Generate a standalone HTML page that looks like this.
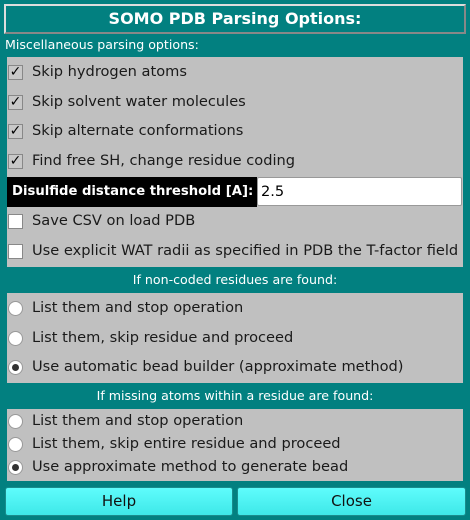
<!DOCTYPE html>
<html><head><style>
*{margin:0;padding:0;box-sizing:border-box}
body{width:470px;height:520px;background:#028080;font-family:"DejaVu Sans","Liberation Sans",sans-serif;position:relative;overflow:hidden}
.a{position:absolute}
.t{font-size:14.6px;color:#1a1a1a;white-space:nowrap}
.w{color:#fff;font-size:12.6px;white-space:nowrap}
.panel{background:#c0c0c0}
.cb{width:15px;height:15px;background:#fff;border:1px solid #888}
.cb.c{background:#c8c8c8;font-size:14px;line-height:13px;text-align:center;font-weight:bold;color:#000}
.rb{width:15px;height:15px;border-radius:50%;background:#fff;border:1px solid #999}
.rb.s::after{content:"";position:absolute;left:3px;top:3px;width:7px;height:7px;border-radius:50%;background:#333}
.btn{background:linear-gradient(#5ffcfc,#3ee8e8);border:1px solid #1a8c8c;border-radius:3px;font-size:15px;text-align:center;line-height:27px;color:#111}
</style></head><body>
<div class="a" style="left:4px;top:4px;width:462px;height:30px;border:2px solid #ddd;border-right-color:#888;border-bottom-color:#888;color:#fff;font-weight:bold;font-size:16px;text-align:center;line-height:26px">SOMO PDB Parsing Options:</div>
<div class="a w" style="left:5px;top:37px">Miscellaneous parsing options:</div>
<div class="a panel" style="left:7px;top:57px;width:456px;height:210px"></div>
<div class="a cb c" style="left:8px;top:65px">✓</div><div class="a t" style="left:32px;top:63px">Skip hydrogen atoms</div>
<div class="a cb c" style="left:8px;top:95px">✓</div><div class="a t" style="left:32px;top:93px">Skip solvent water molecules</div>
<div class="a cb c" style="left:8px;top:124px">✓</div><div class="a t" style="left:32px;top:122px">Skip alternate conformations</div>
<div class="a cb c" style="left:8px;top:154px">✓</div><div class="a t" style="left:32px;top:152px">Find free SH, change residue coding</div>
<div class="a" style="left:7px;top:177px;width:250px;height:30px;background:#000;color:#fff;font-weight:bold;font-size:13.2px;line-height:30px;padding-left:5px;white-space:nowrap;overflow:hidden">Disulfide distance threshold [A]:</div>
<div class="a" style="left:257px;top:177px;width:205px;height:29px;background:#fff;border:1px solid #999;border-radius:2px;font-size:14.6px;line-height:27px;padding-left:3px">2.5</div>
<div class="a cb" style="left:8px;top:214px"></div><div class="a t" style="left:32px;top:212px">Save CSV on load PDB</div>
<div class="a cb" style="left:8px;top:244px"></div><div class="a t" style="left:32px;top:242px">Use explicit WAT radii as specified in PDB the T-factor field</div>
<div class="a w" style="left:0;width:470px;text-align:center;top:272px">If non-coded residues are found:</div>
<div class="a panel" style="left:7px;top:293px;width:456px;height:90px"></div>
<div class="a rb" style="left:8px;top:301px"></div><div class="a t" style="left:32px;top:299px">List them and stop operation</div>
<div class="a rb" style="left:8px;top:331px"></div><div class="a t" style="left:32px;top:329px">List them, skip residue and proceed</div>
<div class="a rb s" style="left:8px;top:360px"></div><div class="a t" style="left:32px;top:358px">Use automatic bead builder (approximate method)</div>
<div class="a w" style="left:0;width:470px;text-align:center;top:388px">If missing atoms within a residue are found:</div>
<div class="a panel" style="left:7px;top:409px;width:456px;height:72px"></div>
<div class="a rb" style="left:8px;top:414px"></div><div class="a t" style="left:32px;top:412px">List them and stop operation</div>
<div class="a rb" style="left:8px;top:437px"></div><div class="a t" style="left:32px;top:435px">List them, skip entire residue and proceed</div>
<div class="a rb s" style="left:8px;top:460px"></div><div class="a t" style="left:32px;top:458px">Use approximate method to generate bead</div>
<div class="a btn" style="left:5px;top:487px;width:228px;height:29px">Help</div>
<div class="a btn" style="left:237px;top:487px;width:229px;height:29px">Close</div>
</body></html>
